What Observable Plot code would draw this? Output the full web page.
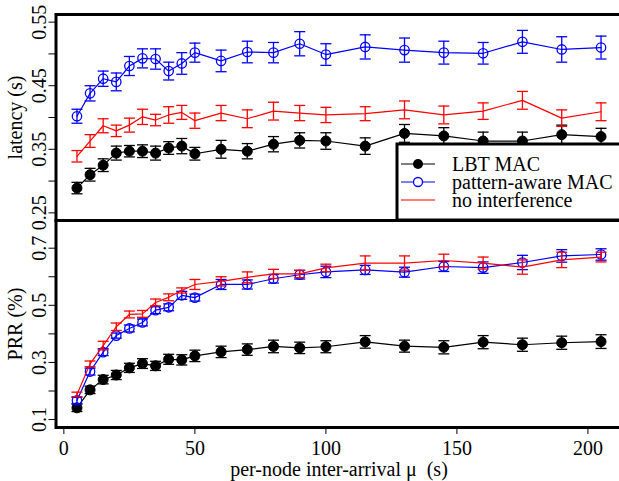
<!DOCTYPE html>
<html><head><meta charset="utf-8">
<script src="https://cdn.jsdelivr.net/npm/d3@7"></script>
<script src="https://cdn.jsdelivr.net/npm/@observablehq/plot@0.6"></script>
<style>
body{margin:0;background:#fff}
#wrap{position:relative;width:619px;height:481px;overflow:hidden;background:#fff}
#wrap svg{position:absolute;left:0;top:0;background:transparent;overflow:visible}
</style></head><body><div id="wrap"></div>
<script>
// ---- data ----
const mu = [5,10,15,20,25,30,35,40,45,50,60,70,80,90,100,115,130,145,160,175,190,205];
const seriesNames = ["LBT MAC", "pattern-aware MAC", "no interference"];

const latLBT    = [0.289,0.310,0.325,0.344,0.347,0.347,0.344,0.352,0.355,0.343,0.350,0.347,0.358,0.364,0.363,0.355,0.375,0.371,0.363,0.363,0.373,0.370];
const latLBTerr = [0.009,0.010,0.010,0.011,0.009,0.010,0.011,0.010,0.012,0.010,0.014,0.012,0.012,0.012,0.013,0.013,0.014,0.013,0.014,0.014,0.015,0.013];
const latPA     = [0.402,0.438,0.461,0.456,0.481,0.493,0.492,0.473,0.485,0.502,0.489,0.503,0.502,0.516,0.499,0.511,0.506,0.502,0.501,0.519,0.507,0.510];
const latPAerr  = [0.011,0.012,0.012,0.014,0.015,0.015,0.016,0.014,0.017,0.015,0.017,0.017,0.016,0.019,0.017,0.019,0.019,0.018,0.017,0.018,0.020,0.018];
const latNI     = [0.339,0.363,0.387,0.379,0.388,0.401,0.396,0.404,0.408,0.395,0.407,0.398,0.410,0.407,0.404,0.406,0.412,0.404,0.410,0.427,0.399,0.409];
const latNIerr  = [0.009,0.010,0.011,0.009,0.011,0.012,0.009,0.013,0.011,0.012,0.012,0.014,0.014,0.012,0.012,0.011,0.014,0.014,0.013,0.014,0.013,0.014];

const prrLBT    = [0.141,0.204,0.240,0.256,0.281,0.296,0.288,0.311,0.309,0.323,0.337,0.345,0.356,0.351,0.355,0.372,0.357,0.353,0.371,0.362,0.369,0.373];
const prrLBTerr = [0.013,0.013,0.015,0.016,0.016,0.017,0.016,0.0175,0.018,0.020,0.020,0.020,0.022,0.020,0.021,0.022,0.021,0.023,0.023,0.023,0.023,0.024];
const prrPA     = [0.167,0.268,0.336,0.394,0.419,0.440,0.483,0.493,0.535,0.527,0.573,0.573,0.593,0.607,0.617,0.624,0.616,0.636,0.632,0.650,0.673,0.678];
const prrPAerr  = [0.011,0.012,0.012,0.009,0.012,0.012,0.012,0.012,0.014,0.012,0.0175,0.016,0.015,0.015,0.020,0.016,0.0175,0.0175,0.020,0.025,0.022,0.020];
const prrNI     = [0.188,0.295,0.359,0.425,0.468,0.470,0.510,0.528,0.552,0.573,0.584,0.598,0.610,0.610,0.631,0.648,0.648,0.657,0.648,0.634,0.659,0.669];
const prrNIerr  = [0.008,0.010,0.015,0.013,0.012,0.012,0.012,0.012,0.009,0.0175,0.016,0.019,0.016,0.013,0.013,0.025,0.025,0.022,0.021,0.025,0.027,0.017];

const muTicks = [0,50,100,150,200];
const latTicks = [0.25,0.30,0.35,0.40,0.45,0.50,0.55];
const latTickLabels = ["0.25","","0.35","","0.45","","0.55"];
const prrTicks = [0.1,0.2,0.3,0.4,0.5,0.6,0.7];
const prrTickLabels = ["0.1","","0.3","","0.5","","0.7"];

// ---- chart ----
const W = 619, H = 481;
const FONT = "'Liberation Serif', 'Times New Roman', serif";
const FS = 20;
const colors = ["black", "blue", "red"];
const markers = ["filled", "open", "none"];
const capSym = {draw(ctx) { ctx.moveTo(-5.5, 0); ctx.lineTo(5.5, 0); }};

function rows(ys, errs) {
  return mu.map((x, i) => ({x, y: ys[i], lo: ys[i] - errs[i], hi: ys[i] + errs[i]}));
}
const latData = [rows(latLBT, latLBTerr), rows(latPA, latPAerr), rows(latNI, latNIerr)];
const prrData = [rows(prrLBT, prrLBTerr), rows(prrPA, prrPAerr), rows(prrNI, prrNIerr)];

function seriesMarks(all) {
  return all.flatMap((d, k) => {
    const c = colors[k];
    const m = [
      Plot.line(d, {x: "x", y: "y", stroke: c, strokeWidth: 1.2}),
      Plot.ruleX(d, {x: "x", y1: "lo", y2: "hi", stroke: c, strokeWidth: 1.3}),
      Plot.dot(d, {x: "x", y: "lo", symbol: capSym, stroke: c, fill: "none", strokeWidth: 1.3}),
      Plot.dot(d, {x: "x", y: "hi", symbol: capSym, stroke: c, fill: "none", strokeWidth: 1.3})
    ];
    if (markers[k] === "filled") m.push(Plot.dot(d, {x: "x", y: "y", r: 5, fill: c, stroke: c, strokeWidth: 1}));
    if (markers[k] === "open") m.push(Plot.dot(d, {x: "x", y: "y", r: 4.7, fill: "none", stroke: c, strokeWidth: 1.3}));
    return m;
  });
}
function fmt(ticks, labels) {
  return d => labels[ticks.findIndex(t => Math.abs(t - d) < 1e-9)] ?? "";
}

const common = {
  width: W, height: H, marginLeft: 55.5, marginRight: -2.5,
  style: {fontFamily: FONT, fontSize: FS + "px", background: "transparent", overflow: "visible", color: "black"}
};

const bottom = Plot.plot({
  ...common,
  marginTop: 220, marginBottom: H - 427,
  x: {domain: [-3, 213]},
  y: {domain: [0.0722, 0.797]},
  marks: [
    Plot.axisX({ticks: muTicks, tickSize: 7, tickPadding: 6, fontSize: FS,
      label: "per-node inter-arrival \u03bc  (s)", labelAnchor: "center", labelArrow: "none", labelOffset: 48}),
    Plot.axisY({ticks: prrTicks, tickSize: 7, tickRotate: -90, tickPadding: 3, fontSize: FS,
      tickFormat: fmt(prrTicks, prrTickLabels),
      label: "PRR (%)", labelAnchor: "center", labelArrow: "none", labelOffset: 48}),
    ...seriesMarks(prrData),
    Plot.frame({strokeWidth: 3})
  ]
});

const topPlot = Plot.plot({
  ...common,
  marginTop: 14, marginBottom: H - 220,
  x: {domain: [-3, 213], axis: null},
  y: {domain: [0.238, 0.562]},
  marks: [
    Plot.axisY({ticks: latTicks, tickSize: 7, tickRotate: -90, tickPadding: 3, fontSize: FS,
      tickFormat: fmt(latTicks, latTickLabels),
      label: "latency (s)", labelAnchor: "center", labelArrow: "none", labelOffset: 48}),
    ...seriesMarks(latData),
    Plot.frame({strokeWidth: 3})
  ]
});

const wrap = document.getElementById("wrap");
wrap.appendChild(bottom);
wrap.appendChild(topPlot);

// ---- legend ----
const leg = d3.select(wrap).append("svg")
  .attr("width", W).attr("height", H)
  .style("font-family", FONT).style("font-size", FS + "px");
leg.append("rect").attr("x", 397).attr("y", 144).attr("width", 300).attr("height", 76)
  .attr("fill", "white").attr("stroke", "black").attr("stroke-width", 3);
seriesNames.forEach((name, k) => {
  const y = 164 + 18 * k;
  const g = leg.append("g");
  g.append("line").attr("x1", 401).attr("x2", 435).attr("y1", y).attr("y2", y)
    .attr("stroke", colors[k]).attr("stroke-width", 1.2);
  if (markers[k] === "filled") g.append("circle").attr("cx", 418).attr("cy", y).attr("r", 5).attr("fill", colors[k]);
  if (markers[k] === "open") g.append("circle").attr("cx", 418).attr("cy", y).attr("r", 4.5)
    .attr("fill", "white").attr("stroke", colors[k]).attr("stroke-width", 1.3);
  g.append("text").attr("x", 452).attr("y", y + 6.5).text(name);
});
</script></body></html>
